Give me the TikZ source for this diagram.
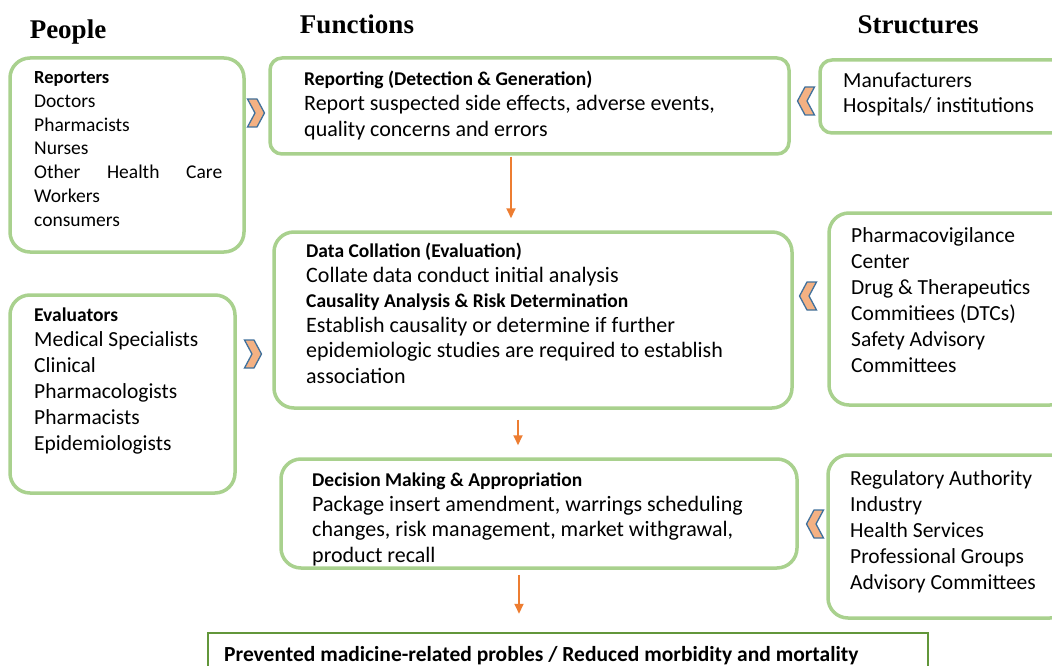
\documentclass[tikz,border=0pt]{standalone}
\usepackage{fontspec}
\setmainfont{Carlito}
\newfontfamily\headfont{Liberation Serif}
\usetikzlibrary{arrows.meta}
\definecolor{boxgreen}{RGB}{169,209,142}
\definecolor{darkgreen}{RGB}{98,150,58}
\definecolor{arrorange}{RGB}{237,125,49}
\definecolor{chevfill}{RGB}{244,177,131}
\definecolor{chevline}{RGB}{65,113,156}

\tikzset{
  gbox/.style={draw=boxgreen, line width=3.5pt, rounded corners=#1, inner sep=0pt},
  gbox/.default=20pt,
  txt/.style={anchor=base west, inner sep=0pt, align=left, font=\fontsize{21.5}{#1}\selectfont},
  txt/.default=25.5pt,
  hd/.style={font=\headfont\bfseries\fontsize{27}{30}\selectfont, inner sep=0pt},
  chevr/.pic={\draw[fill=chevfill, draw=chevline, line width=1.3pt, line join=miter]
    (-8.5,-14) -- (1,-14) -- (8.5,0) -- (1,14) -- (-8.5,14) -- (-1,0) -- cycle;},
  chevl/.pic={\draw[fill=chevfill, draw=chevline, line width=1.3pt, line join=miter]
    (8.5,-14) -- (-1,-14) -- (-8.5,0) -- (-1,14) -- (8.5,14) -- (1,0) -- cycle;}
}
\newcommand{\hb}[1]{{\bfseries\fontsize{19.5}{20}\selectfont #1}}

\begin{document}
\begin{tikzpicture}[x=1pt, y=-1pt, >={Triangle[length=10pt,width=9pt]}]
    \clip (0,0) rectangle (1052,666);
    \fill[white] (0,0) rectangle (1052,666);

    % column titles
    \node[hd] (people) at (68,32) {People};
    \node[hd] (functions) at (357,24) {Functions};
    \node[hd] (structures) at (918,25) {Structures};

    % people (text nodes are placed at the baseline of their last line)
    \node[gbox, minimum width=234pt, minimum height=194pt] (rep) at (127,155) {};
    \node[gbox, minimum width=225pt, minimum height=198pt] (eval) at (122.5,394) {};
    \node[txt=23.7pt, font=\fontsize{19.5}{23.7}\selectfont] (reptxt) at (34,226)
      {{\bfseries\fontsize{18.5}{20}\selectfont Reporters}\\Doctors\\Pharmacists\\Nurses\\\makebox[188pt][s]{Other\hfill Health\hfill Care}\\Workers\\consumers};
    \node[txt=25.8pt] (evaltxt) at (34,450)
      {\hb{Evaluators}\\Medical Specialists\\Clinical\\Pharmacologists\\Pharmacists\\Epidemiologists};

    % functions
    \node[gbox=12pt, minimum width=519pt, minimum height=96pt] (repf) at (529.5,106) {};
    \node[gbox, minimum width=518pt, minimum height=176pt] (coll) at (533,320) {};
    \node[gbox, minimum width=516pt, minimum height=109pt] (deci) at (539,513.5) {};
    \node[txt, font=\fontsize{22}{25.5}\selectfont] (repftxt) at (304,136)
      {\hb{Reporting (Detection \& Generation)}\\Report suspected side effects, adverse events,\\quality concerns and errors};
    \node[txt=25.2pt, font=\fontsize{22}{25.2}\selectfont] (colltxt) at (306,383)
      {\hb{Data Collation (Evaluation)}\\Collate data conduct initial analysis\\\hb{Causality Analysis \& Risk Determination}\\Establish causality or determine if further\\epidemiologic studies are required to establish\\association};
    \node[txt=25.3pt, font=\fontsize{22}{25.3}\selectfont] (decitxt) at (312,562)
      {\hb{Decision Making \& Appropriation}\\Package insert amendment, warrings scheduling\\changes, risk management, market withgrawal,\\product recall};

    % structures
    \node[gbox=12pt, minimum width=250pt, minimum height=73pt] (manu) at (945,96.5) {};
    \node[gbox, minimum width=241pt, minimum height=192pt] (pvc) at (949.5,309) {};
    \node[gbox, minimum width=242pt, minimum height=163pt] (reg) at (949,536.5) {};
    \node[txt=25pt] (manutxt) at (843,113) {Manufacturers\\Hospitals/ institutions};
    \node[txt=26pt] (pvctxt) at (851,372)
      {Pharmacovigilance\\Center\\Drug \& Therapeutics\\Commitiees (DTCs)\\Safety Advisory\\Committees};
    \node[txt=26pt] (regtxt) at (850,589)
      {Regulatory Authority\\Industry\\Health Services\\Professional Groups\\Advisory Committees};

    % outcome
    \node[draw=darkgreen, line width=2.5pt, minimum width=720pt, minimum height=57pt, inner sep=0pt] (outc) at (568,661.5) {};
    \node[anchor=base west, inner sep=0pt, font=\bfseries\fontsize{21.5}{24}\selectfont] (outctxt) at (224,661)
      {Prevented madicine-related probles / Reduced morbidity and mortality};

    % chevrons
    \pic at (256,113) {chevr};
    \pic at (253,354) {chevr};
    \pic at (806,101) {chevl};
    \pic at (808,296) {chevl};
    \pic at (815,524) {chevl};

    % flow arrows
    \draw[->, arrorange, line width=2pt, shorten >=12pt, shorten <=1pt] ([xshift=-18.5pt]repf.south) -- ([xshift=-18.5pt]repf.south |- coll.north);
    \draw[->, arrorange, line width=2pt, shorten >=12pt, shorten <=10pt] ([xshift=-15pt]coll.south) -- ([xshift=-15pt]coll.south |- deci.north);
    \draw[->, arrorange, line width=2pt, shorten >=18pt, shorten <=5pt] ([xshift=-20pt]deci.south) -- ([xshift=-20pt]deci.south |- outc.north);
\end{tikzpicture}
\end{document}
